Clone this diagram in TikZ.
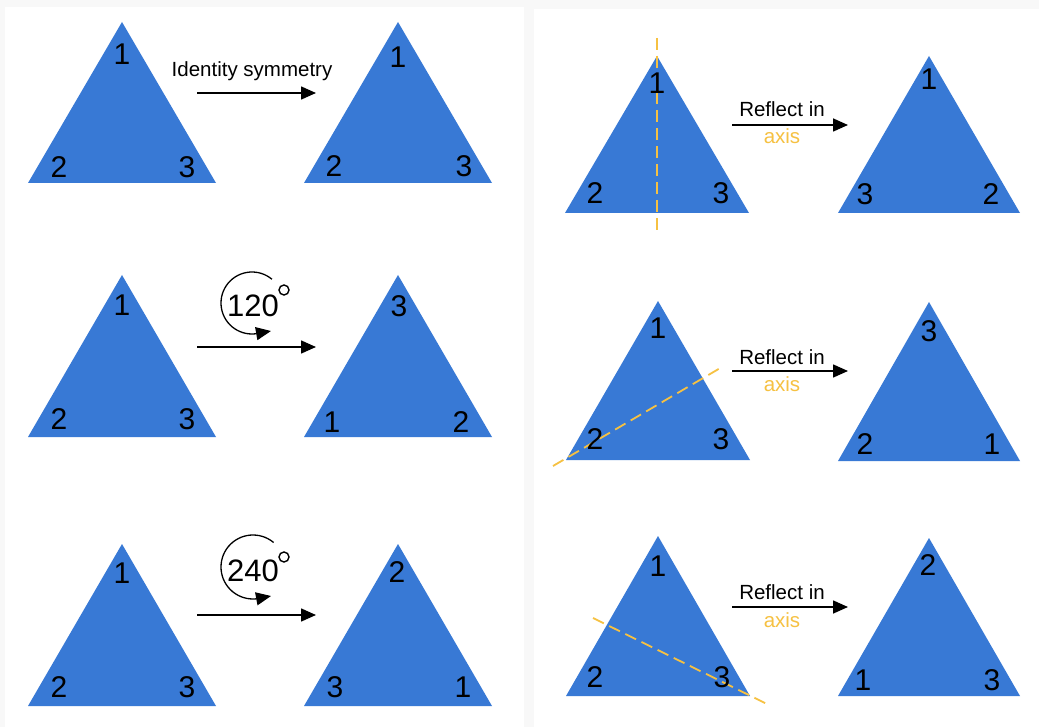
\documentclass[tikz,border=0pt]{standalone}
\usepackage{fontspec}
\setmainfont{Liberation Sans}
\usetikzlibrary{arrows.meta}
\definecolor{triblue}{RGB}{56,121,213}
\definecolor{axisorange}{RGB}{246,193,66}
\definecolor{bggray}{RGB}{248,248,248}
\newcommand\symtri[4]{\fill[triblue] (#1,#2) -- (#1-#4,#3) -- (#1+#4,#3) -- cycle;}
\begin{document}
\begin{tikzpicture}[x=1pt,y=-1pt,
  digit/.style={inner sep=0pt, font=\fontsize{30}{30}\selectfont},
  angletext/.style={inner sep=0pt, font=\fontsize{31}{31}\selectfont},
  caption/.style={inner sep=0pt, anchor=base, font=\fontsize{20.5}{20.5}\selectfont},
  axislabel/.style={caption, text=axisorange},
  maparrow/.style={line width=1.6pt, -{Triangle[length=15pt,width=13pt]}},
  turnarrow/.style={line width=1.3pt, -{Triangle[length=15pt,width=13pt]}},
  axisline/.style={axisorange, line width=1.8pt, dash pattern=on 12pt off 6pt},
  degree/.style={line width=1.4pt}]
\useasboundingbox (0,0) rectangle (1039,727);
\fill[bggray] (0,0) rectangle (1039,727);
\fill[white] (5,7) rectangle (524,727);
\fill[white] (534,9) rectangle (1039,727);

% ---- left panel triangles
\symtri{122}{22}{183}{94}
\symtri{398}{22}{183}{94}
\symtri{122}{275}{437}{94}
\symtri{398}{275}{437}{94}
\symtri{122}{544}{706}{94}
\symtri{398}{544}{706}{94}
% ---- right panel triangles
\symtri{657}{56}{213}{92}
\symtri{929}{56}{213}{91}
\symtri{658}{301}{460}{92}
\symtri{929}{302}{461}{91}
\symtri{658}{536}{696}{92}
\symtri{929}{538}{696}{91}

% ---- axes of reflection
\coordinate (ax1a) at (657,38);  \coordinate (ax1b) at (657,230);
\coordinate (ax2a) at (553,466); \coordinate (ax2b) at (722,367);
\coordinate (ax3a) at (593,618); \coordinate (ax3b) at (767,704);
\draw[axisline] (ax1a) -- (ax1b);
\draw[axisline] (ax2a) -- (ax2b);
\draw[axisline] (ax3a) -- (ax3b);

% ---- left row 1
\node[digit] (l1a) at (122,54) {1};
\node[digit] (l1b) at (59,167) {2};
\node[digit] (l1c) at (187,167) {3};
\node[digit] (r1a) at (398,57) {1};
\node[digit] (r1b) at (334,166) {2};
\node[digit] (r1c) at (464,166) {3};
\node[caption] (idtext) at (252,77) {Identity symmetry};
\coordinate (a1s) at (197,93); \coordinate (a1e) at (316,93);
\draw[maparrow] (a1s) -- (a1e);

% ---- left row 2
\node[digit] (l2a) at (122,305) {1};
\node[digit] (l2b) at (59,419) {2};
\node[digit] (l2c) at (187,419) {3};
\node[digit] (r2a) at (399,306) {3};
\node[digit] (r2b) at (332,422) {1};
\node[digit] (r2c) at (461,422) {2};
\node[angletext] (rot1) at (253,306) {120};
\coordinate (c1) at (252,303);
\coordinate (t1) at (271,331);
\draw[turnarrow] ([shift={(-50:31)}]c1) arc[start angle=-50, end angle=-275, radius=31] -- (t1);
\coordinate (deg1) at (284,290);
\draw[degree] (deg1) circle[radius=5];
\coordinate (a2s) at (197,347); \coordinate (a2e) at (316,347);
\draw[maparrow] (a2s) -- (a2e);

% ---- left row 3
\node[digit] (l3a) at (122,573) {1};
\node[digit] (l3b) at (59,687) {2};
\node[digit] (l3c) at (187,687) {3};
\node[digit] (r3a) at (397,572) {2};
\node[digit] (r3b) at (335,687) {3};
\node[digit] (r3c) at (463,687) {1};
\node[angletext] (rot2) at (253,571) {240};
\coordinate (c2) at (253,567);
\coordinate (t2) at (271,596);
\draw[turnarrow] ([shift={(-50:32)}]c2) arc[start angle=-50, end angle=-275, radius=32] -- (t2);
\coordinate (deg2) at (284,557);
\draw[degree] (deg2) circle[radius=5];
\coordinate (a3s) at (197,615); \coordinate (a3e) at (316,615);
\draw[maparrow] (a3s) -- (a3e);

% ---- right row 1
\node[digit] (p1a) at (657,83) {1};
\node[digit] (p1b) at (595,193) {2};
\node[digit] (p1c) at (721,193) {3};
\node[digit] (q1a) at (929,79) {1};
\node[digit] (q1b) at (865,194) {3};
\node[digit] (q1c) at (991,194) {2};
\node[caption] (rf1) at (782,117) {Reflect in};
\node[axislabel] (ax1) at (782,144) {axis};
\coordinate (b1s) at (732,125); \coordinate (b1e) at (848,125);
\draw[maparrow] (b1s) -- (b1e);

% ---- right row 2
\node[digit] (p2a) at (658,328) {1};
\node[digit] (p2b) at (595,439) {2};
\node[digit] (p2c) at (721,439) {3};
\node[digit] (q2a) at (929,331) {3};
\node[digit] (q2b) at (865,444) {2};
\node[digit] (q2c) at (992,444) {1};
\node[caption] (rf2) at (782,364) {Reflect in};
\node[axislabel] (ax2) at (782,391) {axis};
\coordinate (b2s) at (732,371); \coordinate (b2e) at (848,371);
\draw[maparrow] (b2s) -- (b2e);

% ---- right row 3
\node[digit] (p3a) at (658,566) {1};
\node[digit] (p3b) at (595,677) {2};
\node[digit] (p3c) at (722,677) {3};
\node[digit] (q3a) at (928,565) {2};
\node[digit] (q3b) at (863,680) {1};
\node[digit] (q3c) at (992,680) {3};
\node[caption] (rf3) at (782,599) {Reflect in};
\node[axislabel] (ax3) at (782,627) {axis};
\coordinate (b3s) at (732,607); \coordinate (b3e) at (848,607);
\draw[maparrow] (b3s) -- (b3e);
\end{tikzpicture}
\end{document}
